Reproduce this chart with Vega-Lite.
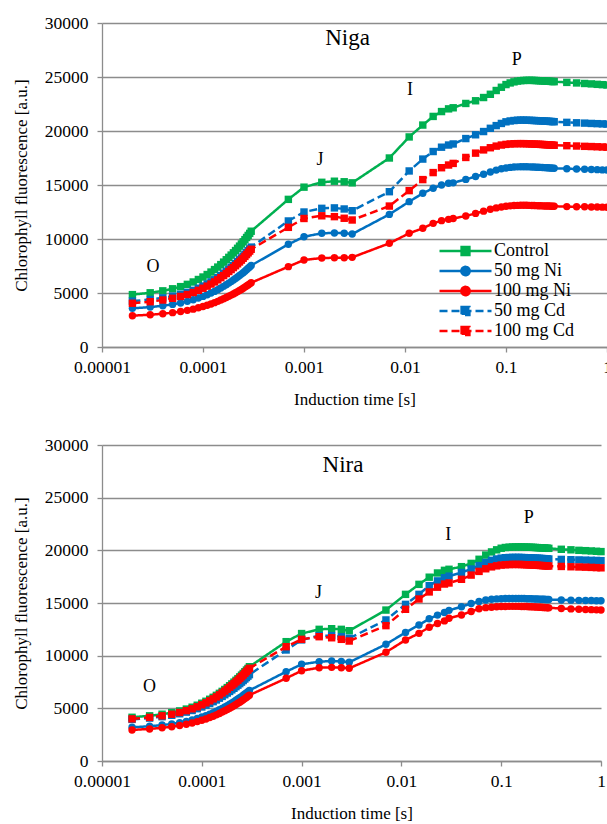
{
"$schema":"https://vega.github.io/schema/vega-lite/v6.json",
"padding":{"left":12,"top":14,"right":5,"bottom":5},
"spacing":28,
"config":{
 "font":"Liberation Serif",
 "view":{"stroke":null},
 "style":{"guide-label":{"font":"Liberation Serif"},"guide-title":{"font":"Liberation Serif"}},
 "axis":{"labelFont":"Liberation Serif","labelFontSize":17.5,"labelColor":"#000","titleFont":"Liberation Serif","titleFontSize":17,"titleFontWeight":"normal","titleColor":"#000","domainColor":"#8c8c8c","tickColor":"#8c8c8c","gridColor":"#8c8c8c","domainWidth":1.3,"gridWidth":1.3,"tickWidth":1.3,"tickSize":5,"labelFlush":false},
 "axisY":{"labelPadding":9,"titlePadding":14},
 "axisX":{"labelPadding":6,"titlePadding":16},
 "legend":{"labelFont":"Liberation Serif","labelFontSize":18,"labelColor":"#000","symbolSize":2704,"symbolStrokeWidth":2.5,"symbolOpacity":1,"clipHeight":18,"rowPadding":2,"labelOffset":1,"padding":0},
 "text":{"font":"Liberation Serif","color":"#000"}
},
"resolve":{"scale":{"color":"independent","strokeDash":"independent"},"legend":{"color":"independent","strokeDash":"independent"}},
"datasets":{
"a_c":[{"t":2e-5,"f":4850},{"t":3e-5,"f":5020},{"t":4e-5,"f":5200},{"t":5e-5,"f":5390},{"t":6e-5,"f":5590},{"t":7e-5,"f":5800},{"t":8e-5,"f":6020},{"t":9e-5,"f":6250},{"t":1e-4,"f":6480},{"t":1.1e-4,"f":6710},{"t":1.2e-4,"f":6940},{"t":1.3e-4,"f":7170},{"t":1.4e-4,"f":7400},{"t":1.5e-4,"f":7630},{"t":1.6e-4,"f":7860},{"t":1.7e-4,"f":8080},{"t":1.8e-4,"f":8300},{"t":1.9e-4,"f":8510},{"t":2e-4,"f":8720},{"t":2.1e-4,"f":8930},{"t":2.2e-4,"f":9140},{"t":2.3e-4,"f":9340},{"t":2.4e-4,"f":9540},{"t":2.5e-4,"f":9740},{"t":2.6e-4,"f":9940},{"t":2.7e-4,"f":10140},{"t":2.8e-4,"f":10330},{"t":2.9e-4,"f":10520},{"t":3e-4,"f":10720},{"t":7e-4,"f":13670},{"t":0.001,"f":14800},{"t":0.0015,"f":15250},{"t":0.002,"f":15350},{"t":0.0025,"f":15300},{"t":0.003,"f":15200},{"t":0.007,"f":17500},{"t":0.011,"f":19450},{"t":0.015,"f":20550},{"t":0.019,"f":21350},{"t":0.023,"f":21800},{"t":0.027,"f":22050},{"t":0.03,"f":22150},{"t":0.04,"f":22550},{"t":0.05,"f":22800},{"t":0.06,"f":23100},{"t":0.07,"f":23400},{"t":0.08,"f":23750},{"t":0.09,"f":24050},{"t":0.1,"f":24300},{"t":0.11,"f":24450},{"t":0.12,"f":24550},{"t":0.13,"f":24620},{"t":0.14,"f":24660},{"t":0.15,"f":24680},{"t":0.16,"f":24690},{"t":0.17,"f":24690},{"t":0.18,"f":24690},{"t":0.19,"f":24680},{"t":0.2,"f":24670},{"t":0.21,"f":24660},{"t":0.22,"f":24650},{"t":0.23,"f":24640},{"t":0.24,"f":24630},{"t":0.25,"f":24620},{"t":0.26,"f":24610},{"t":0.27,"f":24600},{"t":0.28,"f":24590},{"t":0.29,"f":24580},{"t":0.3,"f":24570},{"t":0.4,"f":24500},{"t":0.5,"f":24450},{"t":0.6,"f":24400},{"t":0.7,"f":24360},{"t":0.8,"f":24320},{"t":0.9,"f":24290},{"t":1,"f":24260}],
"a_n5":[{"t":2e-5,"f":3580},{"t":3e-5,"f":3695},{"t":4e-5,"f":3820},{"t":5e-5,"f":3945},{"t":6e-5,"f":4080},{"t":7e-5,"f":4225},{"t":8e-5,"f":4370},{"t":9e-5,"f":4530},{"t":1e-4,"f":4685},{"t":1.1e-4,"f":4840},{"t":1.2e-4,"f":4995},{"t":1.3e-4,"f":5150},{"t":1.4e-4,"f":5305},{"t":1.5e-4,"f":5460},{"t":1.6e-4,"f":5615},{"t":1.7e-4,"f":5765},{"t":1.8e-4,"f":5915},{"t":1.9e-4,"f":6055},{"t":2e-4,"f":6200},{"t":2.1e-4,"f":6340},{"t":2.2e-4,"f":6480},{"t":2.3e-4,"f":6615},{"t":2.4e-4,"f":6750},{"t":2.5e-4,"f":6885},{"t":2.6e-4,"f":7020},{"t":2.7e-4,"f":7155},{"t":2.8e-4,"f":7290},{"t":2.9e-4,"f":7415},{"t":3e-4,"f":7550},{"t":7e-4,"f":9510},{"t":0.001,"f":10210},{"t":0.0015,"f":10530},{"t":0.002,"f":10560},{"t":0.0025,"f":10540},{"t":0.003,"f":10460},{"t":0.007,"f":12280},{"t":0.011,"f":13460},{"t":0.015,"f":14230},{"t":0.019,"f":14700},{"t":0.023,"f":15000},{"t":0.027,"f":15160},{"t":0.03,"f":15200},{"t":0.04,"f":15520},{"t":0.05,"f":15780},{"t":0.06,"f":16000},{"t":0.07,"f":16200},{"t":0.08,"f":16380},{"t":0.09,"f":16500},{"t":0.1,"f":16580},{"t":0.11,"f":16630},{"t":0.12,"f":16660},{"t":0.13,"f":16680},{"t":0.14,"f":16690},{"t":0.15,"f":16690},{"t":0.16,"f":16690},{"t":0.17,"f":16680},{"t":0.18,"f":16670},{"t":0.19,"f":16660},{"t":0.2,"f":16650},{"t":0.21,"f":16640},{"t":0.22,"f":16630},{"t":0.23,"f":16620},{"t":0.24,"f":16610},{"t":0.25,"f":16600},{"t":0.26,"f":16590},{"t":0.27,"f":16580},{"t":0.28,"f":16570},{"t":0.29,"f":16560},{"t":0.3,"f":16550},{"t":0.4,"f":16510},{"t":0.5,"f":16480},{"t":0.6,"f":16460},{"t":0.7,"f":16440},{"t":0.8,"f":16420},{"t":0.9,"f":16400},{"t":1,"f":16390}],
"a_n10":[{"t":2e-5,"f":2900},{"t":3e-5,"f":2990},{"t":4e-5,"f":3080},{"t":5e-5,"f":3180},{"t":6e-5,"f":3285},{"t":7e-5,"f":3395},{"t":8e-5,"f":3505},{"t":9e-5,"f":3630},{"t":1e-4,"f":3750},{"t":1.1e-4,"f":3865},{"t":1.2e-4,"f":3985},{"t":1.3e-4,"f":4105},{"t":1.4e-4,"f":4225},{"t":1.5e-4,"f":4345},{"t":1.6e-4,"f":4465},{"t":1.7e-4,"f":4580},{"t":1.8e-4,"f":4695},{"t":1.9e-4,"f":4805},{"t":2e-4,"f":4915},{"t":2.1e-4,"f":5020},{"t":2.2e-4,"f":5130},{"t":2.3e-4,"f":5235},{"t":2.4e-4,"f":5335},{"t":2.5e-4,"f":5440},{"t":2.6e-4,"f":5545},{"t":2.7e-4,"f":5650},{"t":2.8e-4,"f":5750},{"t":2.9e-4,"f":5845},{"t":3e-4,"f":5950},{"t":7e-4,"f":7440},{"t":0.001,"f":8060},{"t":0.0015,"f":8240},{"t":0.002,"f":8260},{"t":0.0025,"f":8260},{"t":0.003,"f":8300},{"t":0.007,"f":9600},{"t":0.011,"f":10530},{"t":0.015,"f":10990},{"t":0.019,"f":11450},{"t":0.023,"f":11700},{"t":0.027,"f":11820},{"t":0.03,"f":11900},{"t":0.04,"f":12130},{"t":0.05,"f":12370},{"t":0.06,"f":12580},{"t":0.07,"f":12750},{"t":0.08,"f":12880},{"t":0.09,"f":12970},{"t":0.1,"f":13030},{"t":0.11,"f":13070},{"t":0.12,"f":13100},{"t":0.13,"f":13110},{"t":0.14,"f":13120},{"t":0.15,"f":13120},{"t":0.16,"f":13120},{"t":0.17,"f":13110},{"t":0.18,"f":13100},{"t":0.19,"f":13100},{"t":0.2,"f":13090},{"t":0.21,"f":13080},{"t":0.22,"f":13080},{"t":0.23,"f":13070},{"t":0.24,"f":13060},{"t":0.25,"f":13060},{"t":0.26,"f":13050},{"t":0.27,"f":13050},{"t":0.28,"f":13040},{"t":0.29,"f":13040},{"t":0.3,"f":13030},{"t":0.4,"f":13000},{"t":0.5,"f":12990},{"t":0.6,"f":12980},{"t":0.7,"f":12970},{"t":0.8,"f":12960},{"t":0.9,"f":12950},{"t":1,"f":12940}],
"a_c5":[{"t":2e-5,"f":4250},{"t":3e-5,"f":4395},{"t":4e-5,"f":4550},{"t":5e-5,"f":4710},{"t":6e-5,"f":4880},{"t":7e-5,"f":5060},{"t":8e-5,"f":5245},{"t":9e-5,"f":5445},{"t":1e-4,"f":5640},{"t":1.1e-4,"f":5835},{"t":1.2e-4,"f":6030},{"t":1.3e-4,"f":6225},{"t":1.4e-4,"f":6420},{"t":1.5e-4,"f":6620},{"t":1.6e-4,"f":6815},{"t":1.7e-4,"f":7000},{"t":1.8e-4,"f":7190},{"t":1.9e-4,"f":7370},{"t":2e-4,"f":7550},{"t":2.1e-4,"f":7725},{"t":2.2e-4,"f":7905},{"t":2.3e-4,"f":8075},{"t":2.4e-4,"f":8245},{"t":2.5e-4,"f":8415},{"t":2.6e-4,"f":8585},{"t":2.7e-4,"f":8755},{"t":2.8e-4,"f":8920},{"t":2.9e-4,"f":9080},{"t":3e-4,"f":9250},{"t":7e-4,"f":11670},{"t":0.001,"f":12500},{"t":0.0015,"f":12840},{"t":0.002,"f":12880},{"t":0.0025,"f":12780},{"t":0.003,"f":12620},{"t":0.007,"f":14380},{"t":0.011,"f":16300},{"t":0.015,"f":17400},{"t":0.019,"f":18100},{"t":0.023,"f":18500},{"t":0.027,"f":18700},{"t":0.03,"f":18800},{"t":0.04,"f":19300},{"t":0.05,"f":19650},{"t":0.06,"f":19950},{"t":0.07,"f":20250},{"t":0.08,"f":20500},{"t":0.09,"f":20700},{"t":0.1,"f":20850},{"t":0.11,"f":20930},{"t":0.12,"f":20970},{"t":0.13,"f":21000},{"t":0.14,"f":21010},{"t":0.15,"f":21010},{"t":0.16,"f":21000},{"t":0.17,"f":20990},{"t":0.18,"f":20980},{"t":0.19,"f":20970},{"t":0.2,"f":20960},{"t":0.21,"f":20950},{"t":0.22,"f":20940},{"t":0.23,"f":20930},{"t":0.24,"f":20920},{"t":0.25,"f":20910},{"t":0.26,"f":20900},{"t":0.27,"f":20890},{"t":0.28,"f":20880},{"t":0.29,"f":20870},{"t":0.3,"f":20860},{"t":0.4,"f":20800},{"t":0.5,"f":20760},{"t":0.6,"f":20730},{"t":0.7,"f":20700},{"t":0.8,"f":20680},{"t":0.9,"f":20660},{"t":1,"f":20640}],
"a_c10":[{"t":2e-5,"f":4050},{"t":3e-5,"f":4195},{"t":4e-5,"f":4350},{"t":5e-5,"f":4510},{"t":6e-5,"f":4680},{"t":7e-5,"f":4860},{"t":8e-5,"f":5045},{"t":9e-5,"f":5245},{"t":1e-4,"f":5440},{"t":1.1e-4,"f":5635},{"t":1.2e-4,"f":5830},{"t":1.3e-4,"f":6025},{"t":1.4e-4,"f":6220},{"t":1.5e-4,"f":6420},{"t":1.6e-4,"f":6615},{"t":1.7e-4,"f":6800},{"t":1.8e-4,"f":6990},{"t":1.9e-4,"f":7170},{"t":2e-4,"f":7350},{"t":2.1e-4,"f":7525},{"t":2.2e-4,"f":7705},{"t":2.3e-4,"f":7875},{"t":2.4e-4,"f":8045},{"t":2.5e-4,"f":8215},{"t":2.6e-4,"f":8385},{"t":2.7e-4,"f":8555},{"t":2.8e-4,"f":8720},{"t":2.9e-4,"f":8880},{"t":3e-4,"f":9050},{"t":7e-4,"f":11080},{"t":0.001,"f":11900},{"t":0.0015,"f":12150},{"t":0.002,"f":12070},{"t":0.0025,"f":11920},{"t":0.003,"f":11760},{"t":0.007,"f":13050},{"t":0.011,"f":14480},{"t":0.015,"f":15500},{"t":0.019,"f":16150},{"t":0.023,"f":16600},{"t":0.027,"f":16850},{"t":0.03,"f":17000},{"t":0.04,"f":17550},{"t":0.05,"f":17950},{"t":0.06,"f":18250},{"t":0.07,"f":18450},{"t":0.08,"f":18600},{"t":0.09,"f":18700},{"t":0.1,"f":18760},{"t":0.11,"f":18800},{"t":0.12,"f":18820},{"t":0.13,"f":18830},{"t":0.14,"f":18830},{"t":0.15,"f":18830},{"t":0.16,"f":18820},{"t":0.17,"f":18810},{"t":0.18,"f":18800},{"t":0.19,"f":18790},{"t":0.2,"f":18780},{"t":0.21,"f":18770},{"t":0.22,"f":18760},{"t":0.23,"f":18750},{"t":0.24,"f":18740},{"t":0.25,"f":18730},{"t":0.26,"f":18720},{"t":0.27,"f":18710},{"t":0.28,"f":18700},{"t":0.29,"f":18690},{"t":0.3,"f":18680},{"t":0.4,"f":18640},{"t":0.5,"f":18610},{"t":0.6,"f":18580},{"t":0.7,"f":18560},{"t":0.8,"f":18540},{"t":0.9,"f":18520},{"t":1,"f":18500}],
"b_c":[{"t":2e-5,"f":4150},{"t":3e-5,"f":4290},{"t":4e-5,"f":4440},{"t":5e-5,"f":4590},{"t":6e-5,"f":4755},{"t":7e-5,"f":4930},{"t":8e-5,"f":5105},{"t":9e-5,"f":5295},{"t":1e-4,"f":5485},{"t":1.1e-4,"f":5670},{"t":1.2e-4,"f":5860},{"t":1.3e-4,"f":6045},{"t":1.4e-4,"f":6235},{"t":1.5e-4,"f":6425},{"t":1.6e-4,"f":6610},{"t":1.7e-4,"f":6790},{"t":1.8e-4,"f":6970},{"t":1.9e-4,"f":7145},{"t":2e-4,"f":7320},{"t":2.1e-4,"f":7485},{"t":2.2e-4,"f":7660},{"t":2.3e-4,"f":7820},{"t":2.4e-4,"f":7985},{"t":2.5e-4,"f":8150},{"t":2.6e-4,"f":8310},{"t":2.7e-4,"f":8475},{"t":2.8e-4,"f":8635},{"t":2.9e-4,"f":8785},{"t":3e-4,"f":8950},{"t":7e-4,"f":11330},{"t":0.001,"f":12100},{"t":0.0015,"f":12500},{"t":0.002,"f":12560},{"t":0.0025,"f":12500},{"t":0.003,"f":12370},{"t":0.007,"f":14330},{"t":0.011,"f":15820},{"t":0.015,"f":16770},{"t":0.019,"f":17450},{"t":0.023,"f":17850},{"t":0.027,"f":18100},{"t":0.03,"f":18200},{"t":0.04,"f":18450},{"t":0.05,"f":18760},{"t":0.06,"f":19150},{"t":0.07,"f":19550},{"t":0.08,"f":19850},{"t":0.09,"f":20050},{"t":0.1,"f":20200},{"t":0.11,"f":20270},{"t":0.12,"f":20300},{"t":0.13,"f":20320},{"t":0.14,"f":20330},{"t":0.15,"f":20330},{"t":0.16,"f":20330},{"t":0.17,"f":20320},{"t":0.18,"f":20310},{"t":0.19,"f":20300},{"t":0.2,"f":20290},{"t":0.21,"f":20280},{"t":0.22,"f":20270},{"t":0.23,"f":20260},{"t":0.24,"f":20250},{"t":0.25,"f":20240},{"t":0.26,"f":20230},{"t":0.27,"f":20220},{"t":0.28,"f":20210},{"t":0.29,"f":20200},{"t":0.3,"f":20190},{"t":0.4,"f":20100},{"t":0.5,"f":20050},{"t":0.6,"f":20000},{"t":0.7,"f":19970},{"t":0.8,"f":19940},{"t":0.9,"f":19910},{"t":1,"f":19880}],
"b_n5":[{"t":2e-5,"f":3200},{"t":3e-5,"f":3300},{"t":4e-5,"f":3410},{"t":5e-5,"f":3520},{"t":6e-5,"f":3640},{"t":7e-5,"f":3765},{"t":8e-5,"f":3895},{"t":9e-5,"f":4035},{"t":1e-4,"f":4175},{"t":1.1e-4,"f":4310},{"t":1.2e-4,"f":4445},{"t":1.3e-4,"f":4585},{"t":1.4e-4,"f":4720},{"t":1.5e-4,"f":4860},{"t":1.6e-4,"f":4995},{"t":1.7e-4,"f":5125},{"t":1.8e-4,"f":5260},{"t":1.9e-4,"f":5385},{"t":2e-4,"f":5510},{"t":2.1e-4,"f":5635},{"t":2.2e-4,"f":5760},{"t":2.3e-4,"f":5880},{"t":2.4e-4,"f":6000},{"t":2.5e-4,"f":6115},{"t":2.6e-4,"f":6235},{"t":2.7e-4,"f":6355},{"t":2.8e-4,"f":6470},{"t":2.9e-4,"f":6580},{"t":3e-4,"f":6700},{"t":7e-4,"f":8480},{"t":0.001,"f":9180},{"t":0.0015,"f":9430},{"t":0.002,"f":9490},{"t":0.0025,"f":9460},{"t":0.003,"f":9370},{"t":0.007,"f":11080},{"t":0.011,"f":12210},{"t":0.015,"f":12910},{"t":0.019,"f":13500},{"t":0.023,"f":13850},{"t":0.027,"f":14100},{"t":0.03,"f":14300},{"t":0.04,"f":14650},{"t":0.05,"f":14950},{"t":0.06,"f":15150},{"t":0.07,"f":15280},{"t":0.08,"f":15350},{"t":0.09,"f":15390},{"t":0.1,"f":15410},{"t":0.11,"f":15420},{"t":0.12,"f":15430},{"t":0.13,"f":15430},{"t":0.14,"f":15430},{"t":0.15,"f":15430},{"t":0.16,"f":15420},{"t":0.17,"f":15420},{"t":0.18,"f":15410},{"t":0.19,"f":15400},{"t":0.2,"f":15400},{"t":0.21,"f":15390},{"t":0.22,"f":15380},{"t":0.23,"f":15380},{"t":0.24,"f":15370},{"t":0.25,"f":15360},{"t":0.26,"f":15360},{"t":0.27,"f":15350},{"t":0.28,"f":15340},{"t":0.29,"f":15340},{"t":0.3,"f":15330},{"t":0.4,"f":15290},{"t":0.5,"f":15270},{"t":0.6,"f":15250},{"t":0.7,"f":15240},{"t":0.8,"f":15230},{"t":0.9,"f":15220},{"t":1,"f":15210}],
"b_n10":[{"t":2e-5,"f":2950},{"t":3e-5,"f":3045},{"t":4e-5,"f":3150},{"t":5e-5,"f":3255},{"t":6e-5,"f":3365},{"t":7e-5,"f":3485},{"t":8e-5,"f":3605},{"t":9e-5,"f":3740},{"t":1e-4,"f":3865},{"t":1.1e-4,"f":3995},{"t":1.2e-4,"f":4125},{"t":1.3e-4,"f":4255},{"t":1.4e-4,"f":4380},{"t":1.5e-4,"f":4515},{"t":1.6e-4,"f":4645},{"t":1.7e-4,"f":4765},{"t":1.8e-4,"f":4890},{"t":1.9e-4,"f":5010},{"t":2e-4,"f":5130},{"t":2.1e-4,"f":5245},{"t":2.2e-4,"f":5360},{"t":2.3e-4,"f":5475},{"t":2.4e-4,"f":5585},{"t":2.5e-4,"f":5700},{"t":2.6e-4,"f":5810},{"t":2.7e-4,"f":5925},{"t":2.8e-4,"f":6030},{"t":2.9e-4,"f":6140},{"t":3e-4,"f":6250},{"t":7e-4,"f":7850},{"t":0.001,"f":8570},{"t":0.0015,"f":8860},{"t":0.002,"f":8890},{"t":0.0025,"f":8860},{"t":0.003,"f":8800},{"t":0.007,"f":10320},{"t":0.011,"f":11490},{"t":0.015,"f":12120},{"t":0.019,"f":12700},{"t":0.023,"f":13050},{"t":0.027,"f":13300},{"t":0.03,"f":13550},{"t":0.04,"f":13860},{"t":0.05,"f":14200},{"t":0.06,"f":14450},{"t":0.07,"f":14560},{"t":0.08,"f":14600},{"t":0.09,"f":14640},{"t":0.1,"f":14660},{"t":0.11,"f":14670},{"t":0.12,"f":14680},{"t":0.13,"f":14680},{"t":0.14,"f":14680},{"t":0.15,"f":14680},{"t":0.16,"f":14670},{"t":0.17,"f":14670},{"t":0.18,"f":14660},{"t":0.19,"f":14650},{"t":0.2,"f":14640},{"t":0.21,"f":14630},{"t":0.22,"f":14620},{"t":0.23,"f":14610},{"t":0.24,"f":14600},{"t":0.25,"f":14590},{"t":0.26,"f":14580},{"t":0.27,"f":14570},{"t":0.28,"f":14560},{"t":0.29,"f":14550},{"t":0.3,"f":14540},{"t":0.4,"f":14480},{"t":0.5,"f":14440},{"t":0.6,"f":14410},{"t":0.7,"f":14390},{"t":0.8,"f":14370},{"t":0.9,"f":14350},{"t":1,"f":14330}],
"b_c5":[{"t":2e-5,"f":3950},{"t":3e-5,"f":4075},{"t":4e-5,"f":4205},{"t":5e-5,"f":4340},{"t":6e-5,"f":4485},{"t":7e-5,"f":4640},{"t":8e-5,"f":4795},{"t":9e-5,"f":4965},{"t":1e-4,"f":5130},{"t":1.1e-4,"f":5295},{"t":1.2e-4,"f":5465},{"t":1.3e-4,"f":5630},{"t":1.4e-4,"f":5795},{"t":1.5e-4,"f":5965},{"t":1.6e-4,"f":6130},{"t":1.7e-4,"f":6290},{"t":1.8e-4,"f":6450},{"t":1.9e-4,"f":6600},{"t":2e-4,"f":6755},{"t":2.1e-4,"f":6905},{"t":2.2e-4,"f":7055},{"t":2.3e-4,"f":7200},{"t":2.4e-4,"f":7345},{"t":2.5e-4,"f":7490},{"t":2.6e-4,"f":7635},{"t":2.7e-4,"f":7780},{"t":2.8e-4,"f":7920},{"t":2.9e-4,"f":8055},{"t":3e-4,"f":8200},{"t":7e-4,"f":10540},{"t":0.001,"f":11500},{"t":0.0015,"f":11900},{"t":0.002,"f":11900},{"t":0.0025,"f":11800},{"t":0.003,"f":11650},{"t":0.007,"f":13390},{"t":0.011,"f":14870},{"t":0.015,"f":15820},{"t":0.019,"f":16650},{"t":0.023,"f":17100},{"t":0.027,"f":17400},{"t":0.03,"f":17550},{"t":0.04,"f":17900},{"t":0.05,"f":18230},{"t":0.06,"f":18550},{"t":0.07,"f":18850},{"t":0.08,"f":19050},{"t":0.09,"f":19180},{"t":0.1,"f":19260},{"t":0.11,"f":19300},{"t":0.12,"f":19320},{"t":0.13,"f":19330},{"t":0.14,"f":19330},{"t":0.15,"f":19330},{"t":0.16,"f":19320},{"t":0.17,"f":19310},{"t":0.18,"f":19300},{"t":0.19,"f":19290},{"t":0.2,"f":19280},{"t":0.21,"f":19270},{"t":0.22,"f":19260},{"t":0.23,"f":19250},{"t":0.24,"f":19240},{"t":0.25,"f":19230},{"t":0.26,"f":19220},{"t":0.27,"f":19210},{"t":0.28,"f":19200},{"t":0.29,"f":19190},{"t":0.3,"f":19180},{"t":0.4,"f":19140},{"t":0.5,"f":19110},{"t":0.6,"f":19090},{"t":0.7,"f":19070},{"t":0.8,"f":19050},{"t":0.9,"f":19040},{"t":1,"f":19020}],
"b_c10":[{"t":2e-5,"f":4000},{"t":3e-5,"f":4140},{"t":4e-5,"f":4290},{"t":5e-5,"f":4440},{"t":6e-5,"f":4605},{"t":7e-5,"f":4780},{"t":8e-5,"f":4955},{"t":9e-5,"f":5145},{"t":1e-4,"f":5335},{"t":1.1e-4,"f":5520},{"t":1.2e-4,"f":5710},{"t":1.3e-4,"f":5895},{"t":1.4e-4,"f":6085},{"t":1.5e-4,"f":6275},{"t":1.6e-4,"f":6460},{"t":1.7e-4,"f":6640},{"t":1.8e-4,"f":6820},{"t":1.9e-4,"f":6995},{"t":2e-4,"f":7170},{"t":2.1e-4,"f":7335},{"t":2.2e-4,"f":7510},{"t":2.3e-4,"f":7670},{"t":2.4e-4,"f":7835},{"t":2.5e-4,"f":8000},{"t":2.6e-4,"f":8160},{"t":2.7e-4,"f":8325},{"t":2.8e-4,"f":8485},{"t":2.9e-4,"f":8635},{"t":3e-4,"f":8800},{"t":7e-4,"f":10850},{"t":0.001,"f":11550},{"t":0.0015,"f":11800},{"t":0.002,"f":11700},{"t":0.0025,"f":11550},{"t":0.003,"f":11390},{"t":0.007,"f":12850},{"t":0.011,"f":14400},{"t":0.015,"f":15380},{"t":0.019,"f":16050},{"t":0.023,"f":16500},{"t":0.027,"f":16800},{"t":0.03,"f":16900},{"t":0.04,"f":17250},{"t":0.05,"f":17650},{"t":0.06,"f":18000},{"t":0.07,"f":18250},{"t":0.08,"f":18430},{"t":0.09,"f":18530},{"t":0.1,"f":18600},{"t":0.11,"f":18630},{"t":0.12,"f":18650},{"t":0.13,"f":18660},{"t":0.14,"f":18660},{"t":0.15,"f":18660},{"t":0.16,"f":18650},{"t":0.17,"f":18640},{"t":0.18,"f":18630},{"t":0.19,"f":18620},{"t":0.2,"f":18610},{"t":0.21,"f":18600},{"t":0.22,"f":18590},{"t":0.23,"f":18580},{"t":0.24,"f":18570},{"t":0.25,"f":18560},{"t":0.26,"f":18550},{"t":0.27,"f":18540},{"t":0.28,"f":18530},{"t":0.29,"f":18520},{"t":0.3,"f":18510},{"t":0.4,"f":18470},{"t":0.5,"f":18440},{"t":0.6,"f":18420},{"t":0.7,"f":18400},{"t":0.8,"f":18380},{"t":0.9,"f":18360},{"t":1,"f":18340}]
},
"vconcat":[
{
 "width":505,"height":324,
 "encoding":{
  "x":{"field":"t","type":"quantitative","scale":{"type":"log","domain":[0.00001,1],"nice":false},"axis":{"values":[0.00001,0.0001,0.001,0.01,0.1,1],"format":".5~f","title":"Induction time [s]","grid":false,"labelFlush":false,"labelFont":"Liberation Serif","titleFont":"Liberation Serif"}},
  "y":{"field":"f","type":"quantitative","scale":{"domain":[0,30000],"nice":false},"axis":{"values":[0,5000,10000,15000,20000,25000,30000],"format":"d","title":"Chlorophyll fluorescence [a.u.]","grid":true,"labelFlush":false,"labelFont":"Liberation Serif","titleFont":"Liberation Serif"}}
 },
 "layer":[
  {"data":{"name":"a_c"},"layer":[
   {"mark":{"type":"line","strokeWidth":2.5},"encoding":{"color":{"datum":"Control","scale":{"domain":["Control","50 mg Ni","100 mg Ni","50 mg Cd","100 mg Cd"],"range":["#00B050","#0070C0","#FF0000","#0070C0","#FF0000"]},"legend":{"title":null,"orient":"none","legendX":336,"legendY":219,"labelFont":"Liberation Serif","encode":{"symbols":{"update":{"shape":{"signal":"indexof(datum.value,'Ni')>=0 ? 'M-1,0H1M-0.16,0C-0.16,-0.0884 -0.0884,-0.16 0,-0.16C0.0884,-0.16 0.16,-0.0884 0.16,0C0.16,0.0884 0.0884,0.16 0,0.16C-0.0884,0.16 -0.16,0.0884 -0.16,0Z' : 'M-1,0H1M-0.15,-0.15H0.15V0.15H-0.15Z'"},"fill":{"signal":"datum.value==='Control' ? '#00B050' : (indexof(datum.value,'50')===0 ? '#0070C0' : '#FF0000')"},"stroke":{"signal":"datum.value==='Control' ? '#00B050' : (indexof(datum.value,'50')===0 ? '#0070C0' : '#FF0000')"},"strokeDash":{"signal":"indexof(datum.value,'Cd')>=0 ? [8,4] : [1,0]"},"opacity":{"value":1}}}}}},"strokeDash":{"datum":"Control","scale":{"domain":["Control","50 mg Ni","100 mg Ni","50 mg Cd","100 mg Cd"],"range":[[1,0],[1,0],[1,0],[8,4],[8,4]]},"legend":null}}},
   {"mark":{"type":"point","shape":"square","filled":true,"size":55,"opacity":1},"encoding":{"color":{"datum":"Control"}}}
  ]},
  {"data":{"name":"a_n5"},"layer":[
   {"mark":{"type":"line","strokeWidth":2.5},"encoding":{"color":{"datum":"50 mg Ni"},"strokeDash":{"datum":"50 mg Ni","legend":null}}},
   {"mark":{"type":"point","shape":"circle","filled":true,"size":55,"opacity":1},"encoding":{"color":{"datum":"50 mg Ni"}}}
  ]},
  {"data":{"name":"a_n10"},"layer":[
   {"mark":{"type":"line","strokeWidth":2.5},"encoding":{"color":{"datum":"100 mg Ni"},"strokeDash":{"datum":"100 mg Ni","legend":null}}},
   {"mark":{"type":"point","shape":"circle","filled":true,"size":55,"opacity":1},"encoding":{"color":{"datum":"100 mg Ni"}}}
  ]},
  {"data":{"name":"a_c5"},"layer":[
   {"mark":{"type":"line","strokeWidth":2.5},"encoding":{"color":{"datum":"50 mg Cd"},"strokeDash":{"datum":"50 mg Cd","legend":null}}},
   {"mark":{"type":"point","shape":"square","filled":true,"size":55,"opacity":1},"encoding":{"color":{"datum":"50 mg Cd"}}}
  ]},
  {"data":{"name":"a_c10"},"layer":[
   {"mark":{"type":"line","strokeWidth":2.5},"encoding":{"color":{"datum":"100 mg Cd"},"strokeDash":{"datum":"100 mg Cd","legend":null}}},
   {"mark":{"type":"point","shape":"square","filled":true,"size":55,"opacity":1},"encoding":{"color":{"datum":"100 mg Cd"}}}
  ]},
  {"data":{"values":[{"t":3.2e-5,"f":7400,"label":"O"},{"t":0.00144,"f":17300,"label":"J"},{"t":0.0112,"f":23800,"label":"I"},{"t":0.128,"f":26600,"label":"P"}]},"mark":{"type":"text","fontSize":18,"font":"Liberation Serif"},"encoding":{"text":{"field":"label"}}},
  {"data":{"values":[{"t":0.0027,"f":28600,"label":"Niga"}]},"mark":{"type":"text","fontSize":23,"font":"Liberation Serif"},"encoding":{"text":{"field":"label"}}}
 ]
},
{
 "width":499,"height":316,
 "encoding":{
  "x":{"field":"t","type":"quantitative","scale":{"type":"log","domain":[0.00001,1],"nice":false},"axis":{"values":[0.00001,0.0001,0.001,0.01,0.1,1],"format":".5~f","title":"Induction time [s]","grid":false,"labelFlush":false,"labelFont":"Liberation Serif","titleFont":"Liberation Serif"}},
  "y":{"field":"f","type":"quantitative","scale":{"domain":[0,30000],"nice":false},"axis":{"values":[0,5000,10000,15000,20000,25000,30000],"format":"d","title":"Chlorophyll fluorescence [a.u.]","grid":true,"labelFlush":false,"labelFont":"Liberation Serif","titleFont":"Liberation Serif"}}
 },
 "layer":[
  {"data":{"name":"b_c"},"layer":[
   {"mark":{"type":"line","strokeWidth":2.5},"encoding":{"color":{"datum":"Control","scale":{"domain":["Control","50 mg Ni","100 mg Ni","50 mg Cd","100 mg Cd"],"range":["#00B050","#0070C0","#FF0000","#0070C0","#FF0000"]},"legend":null},"strokeDash":{"datum":"Control","scale":{"domain":["Control","50 mg Ni","100 mg Ni","50 mg Cd","100 mg Cd"],"range":[[1,0],[1,0],[1,0],[8,4],[8,4]]},"legend":null}}},
   {"mark":{"type":"point","shape":"square","filled":true,"size":55,"opacity":1},"encoding":{"color":{"datum":"Control","legend":null}}}
  ]},
  {"data":{"name":"b_n5"},"layer":[
   {"mark":{"type":"line","strokeWidth":2.5},"encoding":{"color":{"datum":"50 mg Ni","legend":null},"strokeDash":{"datum":"50 mg Ni","legend":null}}},
   {"mark":{"type":"point","shape":"circle","filled":true,"size":55,"opacity":1},"encoding":{"color":{"datum":"50 mg Ni","legend":null}}}
  ]},
  {"data":{"name":"b_n10"},"layer":[
   {"mark":{"type":"line","strokeWidth":2.5},"encoding":{"color":{"datum":"100 mg Ni","legend":null},"strokeDash":{"datum":"100 mg Ni","legend":null}}},
   {"mark":{"type":"point","shape":"circle","filled":true,"size":55,"opacity":1},"encoding":{"color":{"datum":"100 mg Ni","legend":null}}}
  ]},
  {"data":{"name":"b_c5"},"layer":[
   {"mark":{"type":"line","strokeWidth":2.5},"encoding":{"color":{"datum":"50 mg Cd","legend":null},"strokeDash":{"datum":"50 mg Cd","legend":null}}},
   {"mark":{"type":"point","shape":"square","filled":true,"size":55,"opacity":1},"encoding":{"color":{"datum":"50 mg Cd","legend":null}}}
  ]},
  {"data":{"name":"b_c10"},"layer":[
   {"mark":{"type":"line","strokeWidth":2.5},"encoding":{"color":{"datum":"100 mg Cd","legend":null},"strokeDash":{"datum":"100 mg Cd","legend":null}}},
   {"mark":{"type":"point","shape":"square","filled":true,"size":55,"opacity":1},"encoding":{"color":{"datum":"100 mg Cd","legend":null}}}
  ]},
  {"data":{"values":[{"t":3e-5,"f":7030,"label":"O"},{"t":0.00148,"f":15950,"label":"J"},{"t":0.0295,"f":21450,"label":"I"},{"t":0.189,"f":23040,"label":"P"}]},"mark":{"type":"text","fontSize":18,"font":"Liberation Serif"},"encoding":{"text":{"field":"label"}}},
  {"data":{"values":[{"t":0.0026,"f":28100,"label":"Nira"}]},"mark":{"type":"text","fontSize":23,"font":"Liberation Serif"},"encoding":{"text":{"field":"label"}}}
 ]
}
]
}
